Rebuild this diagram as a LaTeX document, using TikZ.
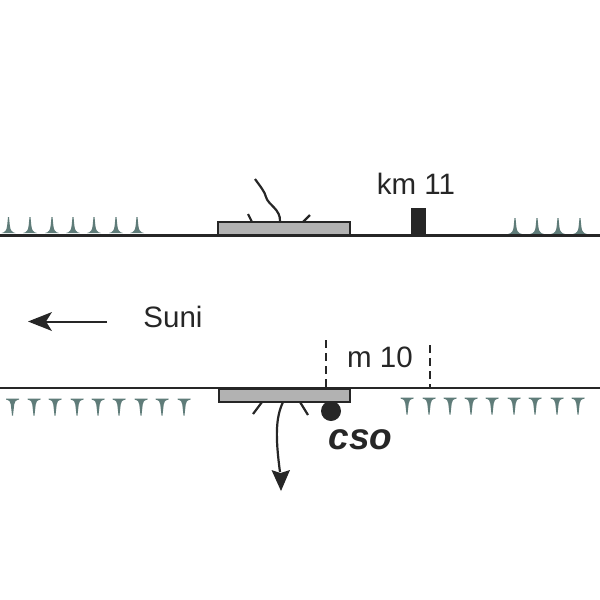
\documentclass[tikz,border=0pt]{standalone}
\usepackage{fontspec}
\setmainfont{Liberation Sans}
\definecolor{ink}{HTML}{262626}
\definecolor{slabgray}{HTML}{B2B2B2}
\definecolor{spike}{HTML}{5F7C79}
\tikzset{
  road/.style={draw=ink,line width=#1},
  slab/.style={draw=ink,fill=slabgray,line width=2pt},
  crack/.style={draw=ink,line width=2.2pt},
  marker/.style={draw=ink,line width=2pt,dash pattern=on 8pt off 5pt},
  lbl/.style={text=ink,font=\fontsize{29.5}{29.5}\selectfont,inner sep=0pt,anchor=base},
  upspike/.pic={\fill[spike] (-7,0) .. controls (-3.5,-0.5) and (-1.8,-3) .. (-1.4,-7) -- (-0.5,-16) -- (0.5,-16) -- (1.4,-7) .. controls (1.8,-3) and (3.5,-0.5) .. (7,0) -- cycle;},
  downspike/.pic={\fill[spike] (-6.5,0) -- (6.5,0) -- (6.5,1) .. controls (3,2) and (2,3) .. (1.7,6) -- (0.5,17) -- (-0.5,17) -- (-1.7,6) .. controls (-2,3) and (-3,2) .. (-6.5,1) -- cycle;},
}
\begin{document}
\begin{tikzpicture}[x=1pt,y=-1pt]
\useasboundingbox (0,0) rectangle (600,600);
% upper road
\coordinate (uL) at (0,235.5);
\coordinate (uR) at (600,235.5);
\foreach \x in {8.5,30,52,73,94,116,137} \pic at (\x,233) {upspike};
\foreach \x in {515,537,558,580} \pic at (\x,234) {upspike};
\draw[road=2.6pt] (uL) -- (uR);
\node[slab,minimum width=132pt,minimum height=12.5pt,inner sep=0pt] (slabU) at (283.5,228.5) {};
\node[fill=ink,minimum width=15pt,minimum height=28pt,inner sep=0pt] (km) at (418.5,222) {};
\node[lbl] (kmT) at (416,194) {km 11};
\coordinate (cTop) at (255,179);
\coordinate (cBase) at (280,222);
\draw[crack] (cTop) .. controls (260,186) and (265,192) .. (266,197) .. controls (268,205) and (281,209) .. (cBase);
\coordinate (t1a) at (248,214); \coordinate (t1b) at (252,222);
\coordinate (t2a) at (310,215); \coordinate (t2b) at (303,222);
\draw[crack] (t1a) -- (t1b);
\draw[crack] (t2a) -- (t2b);
% direction
\coordinate (dA) at (107,321.5);
\coordinate (dB) at (28,321.5);
\draw[draw=ink,line width=2pt] (dA) -- (46,321.5);
\fill[ink] (dB) -- (52,312) -- (46,321.5) -- (52,331) -- cycle;
\node[lbl] (suni) at (173,327) {Suni};
% lower road
\coordinate (lL) at (0,388);
\coordinate (lR) at (600,388);
\foreach \x in {12.5,34,55,77,98,119,141,162,184} \pic at (\x,398.5) {downspike};
\foreach \x in {407,429,450,471,492,514,535,557,578} \pic at (\x,397.5) {downspike};
\draw[road=1.8pt] (lL) -- (lR);
\coordinate (m1a) at (326,340); \coordinate (m1b) at (326,388);
\coordinate (m2a) at (430,345); \coordinate (m2b) at (430,388);
\draw[marker] (m1a) -- (m1b);
\draw[marker] (m2a) -- (m2b);
\node[lbl] (mT) at (380,367) {m 10};
\node[slab,minimum width=131pt,minimum height=13pt,inner sep=0pt] (slabL) at (284.7,395) {};
\coordinate (t3a) at (262,402); \coordinate (t3b) at (253,414);
\coordinate (t4a) at (300,402); \coordinate (t4b) at (308,415);
\draw[crack] (t3a) -- (t3b);
\draw[crack] (t4a) -- (t4b);
\coordinate (flowA) at (283,402);
\coordinate (flowB) at (280,472);
\draw[crack] (flowA) .. controls (276,417) and (275,435) .. (flowB);
\fill[ink] (281,491) -- (271.5,470) -- (280.5,473) -- (290,470) -- cycle;
\node[circle,fill=ink,minimum size=20pt,inner sep=0pt] (cso) at (331,411) {};
\node[lbl,font=\fontsize{37}{37}\selectfont\bfseries\itshape] (csoT) at (360.5,449) {cso};
\end{tikzpicture}
\end{document}
